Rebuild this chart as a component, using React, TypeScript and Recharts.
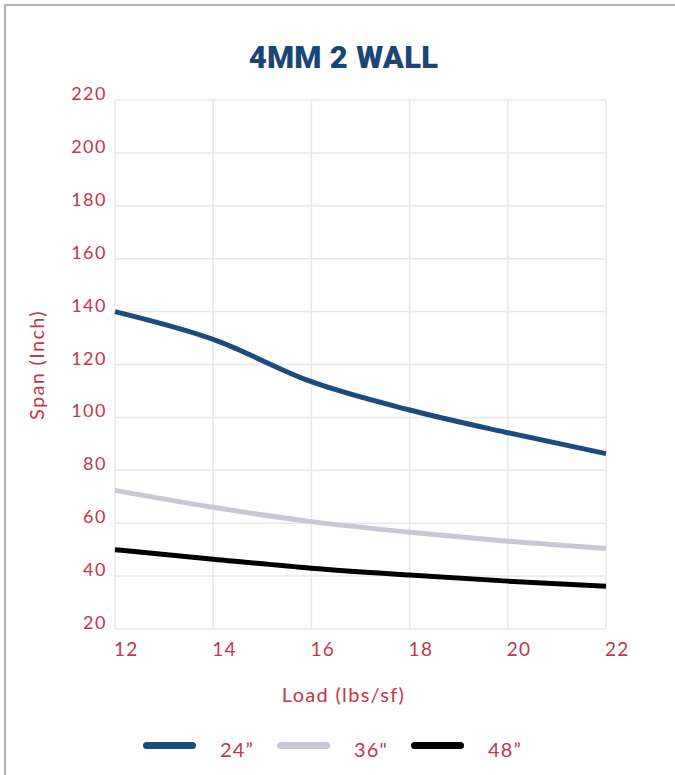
import { LineChart, Line, XAxis, YAxis, CartesianGrid, Legend } from "recharts";

const loads = [12, 14, 16, 18, 20, 22];
const span24 = [140, 129.5, 113.5, 102.8, 94.2, 86.3];
const span36 = [72.4, 66, 60.6, 56.6, 53.2, 50.4];
const span48 = [50, 46.4, 43, 40.4, 38.1, 36.2];
const xTicks = [12, 14, 16, 18, 20, 22];
const yTicks = [20, 40, 60, 80, 100, 120, 140, 160, 180, 200, 220];

const series = [
  { key: "s24", name: "24\u201d", color: "#1b4c7e" },
  { key: "s36", name: "36\"", color: "#c9c7d4" },
  { key: "s48", name: "48\u201d", color: "#000000" },
];

const RED = "#c1364c";
const FONT = "Lato, 'Noto Sans', sans-serif";

const data = loads.map((x, i) => ({ load: x, s24: span24[i], s36: span36[i], s48: span48[i] }));

const YTick = (props: any) => {
  const { x, y, payload } = props;
  return (
    <text x={x} y={y} textAnchor="end" fill={RED} fontSize={18} fontFamily={FONT} letterSpacing={1.5}>
      {payload.value}
    </text>
  );
};

const XTick = (props: any) => {
  const { x, y, payload } = props;
  return (
    <text x={x - 1} y={y + 19} textAnchor="start" fill={RED} fontSize={19} fontFamily={FONT} letterSpacing={1.3}>
      {payload.value}
    </text>
  );
};

const XLabel = (props: any) => {
  const { viewBox } = props;
  return (
    <text x={viewBox.x + viewBox.width / 2 - 17} y={viewBox.y + 73} textAnchor="middle" fill={RED} fontSize={20} fontFamily={FONT} letterSpacing={1.3}>
      Load (lbs/sf)
    </text>
  );
};

const YLabel = () => (
  <text x={0} y={0} transform="translate(44,365) rotate(-90)" textAnchor="middle" fill={RED} fontSize={20} fontFamily={FONT} letterSpacing={1.3}>
    Span (Inch)
  </text>
);

const LegendBox = () => (
  <div style={{ position: "relative", height: 56, width: 675 }}>
    {series.map((s, i) => (
      <div key={s.key} style={{ position: "absolute", left: 143 + i * 134, top: 0, width: 134, height: 56 }}>
        <div style={{ position: "absolute", left: 0, top: 33, width: 53, height: 7, borderRadius: 4, background: s.color }} />
        <span style={{ position: "absolute", left: 77, top: 31, fontSize: 20, lineHeight: "19px", color: RED, fontFamily: FONT, letterSpacing: 1.1, whiteSpace: "nowrap" }}>
          {s.name}
        </span>
      </div>
    ))}
  </div>
);

export default function App() {
  return (
    <div style={{ position: "absolute", left: 0, top: 0, width: 675, height: 775, background: "#fff", overflow: "hidden" }}>
      <div style={{ position: "absolute", left: 4, top: 4, right: 0, bottom: 0, borderTop: "2px solid #b3b3b3", borderLeft: "2px solid #b3b3b3" }} />
      <div
        style={{
          position: "absolute", left: 0, width: 687, top: 40, textAlign: "center",
          fontFamily: "Roboto, sans-serif", fontWeight: 900, fontSize: 31, color: "#1a4577", lineHeight: "36px", letterSpacing: 0.3,
        }}
      >
        4MM 2 WALL
      </div>
      <LineChart width={675} height={775} data={data} margin={{ top: 100, right: 69, bottom: 10, left: 0 }}>
        <CartesianGrid stroke="#e8e8ec" strokeWidth={1.5} />
        <XAxis
          dataKey="load"
          type="number"
          domain={[12, 22]}
          ticks={xTicks}
          axisLine={false}
          tickLine={false}
          tickSize={6}
          tickMargin={2}
          height={80}
          tick={<XTick />}
          label={<XLabel />}
          interval={0}
        />
        <YAxis
          type="number"
          domain={[20, 220]}
          ticks={yTicks}
          axisLine={false}
          tickLine={false}
          tickSize={6}
          tickMargin={2}
          width={115}
          tick={<YTick />}
          label={<YLabel />}
          interval={0}
        />
        <Legend verticalAlign="bottom" content={<LegendBox />} wrapperStyle={{ left: 0, width: 675 }} />
        {series.map((s) => (
          <Line
            key={s.key}
            dataKey={s.key}
            name={s.name}
            type="monotone"
            stroke={s.color}
            strokeWidth={5}
            dot={false}
            activeDot={false}
            isAnimationActive={false}
          />
        ))}
      </LineChart>
    </div>
  );
}
